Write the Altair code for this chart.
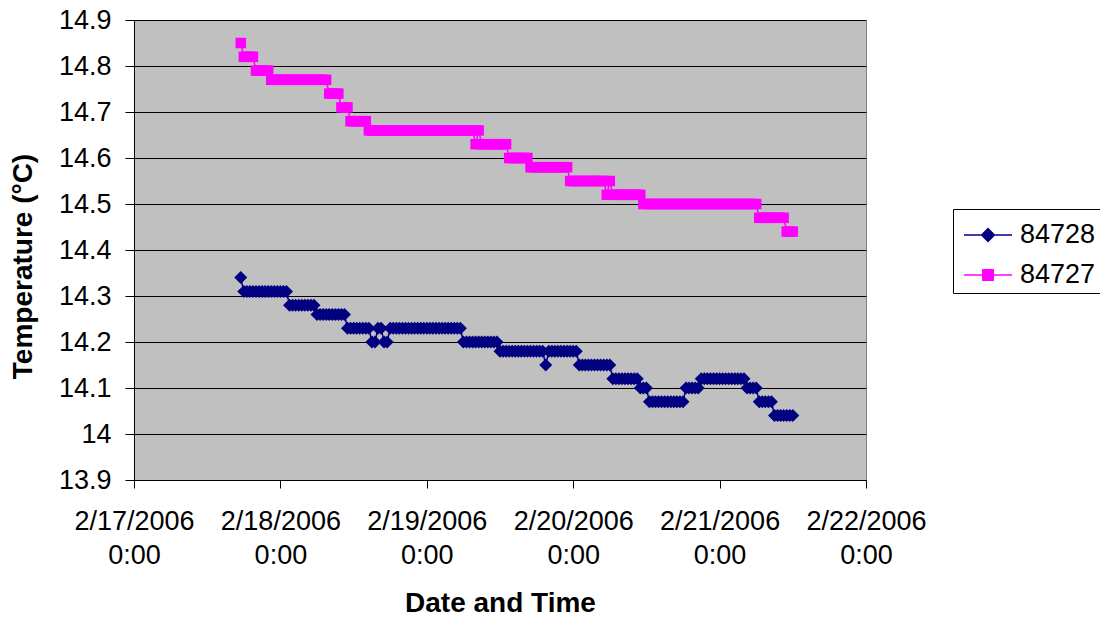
import altair as alt
import pandas as pd

# ---- data ----
series_names = ["84728", "84727"]
series_colors = ["#000080", "#FF00FF"]
marker_shapes = ["diamond", "square"]
marker_sizes = [170, 110]
legend_shapes = [
    "M-1.2,0H1.2M-0.32,0L0,-0.32L0.32,0L0,0.32Z",
    "M-1.2,0H1.2M-0.26,-0.26H0.26V0.26H-0.26Z",
]

start_time = "2006-02-17 17:30"   # first logger reading
sample_interval = "30min"         # logger interval

temps_84728 = [
    14.34, 14.31, 14.31, 14.31, 14.31, 14.31, 14.31, 14.31, 14.31, 14.31,
    14.31, 14.31, 14.31, 14.31, 14.31, 14.31, 14.28, 14.28, 14.28, 14.28,
    14.28, 14.28, 14.28, 14.28, 14.28, 14.26, 14.26, 14.26, 14.26, 14.26,
    14.26, 14.26, 14.26, 14.26, 14.26, 14.23, 14.23, 14.23, 14.23, 14.23,
    14.23, 14.23, 14.23, 14.20, 14.20, 14.23, 14.23, 14.20, 14.20, 14.23,
    14.23, 14.23, 14.23, 14.23, 14.23, 14.23, 14.23, 14.23, 14.23, 14.23,
    14.23, 14.23, 14.23, 14.23, 14.23, 14.23, 14.23, 14.23, 14.23, 14.23,
    14.23, 14.23, 14.23, 14.20, 14.20, 14.20, 14.20, 14.20, 14.20, 14.20,
    14.20, 14.20, 14.20, 14.20, 14.20, 14.18, 14.18, 14.18, 14.18, 14.18,
    14.18, 14.18, 14.18, 14.18, 14.18, 14.18, 14.18, 14.18, 14.18, 14.18,
    14.15, 14.18, 14.18, 14.18, 14.18, 14.18, 14.18, 14.18, 14.18, 14.18,
    14.18, 14.15, 14.15, 14.15, 14.15, 14.15, 14.15, 14.15, 14.15, 14.15,
    14.15, 14.15, 14.12, 14.12, 14.12, 14.12, 14.12, 14.12, 14.12, 14.12,
    14.12, 14.10, 14.10, 14.10, 14.07, 14.07, 14.07, 14.07, 14.07, 14.07,
    14.07, 14.07, 14.07, 14.07, 14.07, 14.07, 14.10, 14.10, 14.10, 14.10,
    14.10, 14.12, 14.12, 14.12, 14.12, 14.12, 14.12, 14.12, 14.12, 14.12,
    14.12, 14.12, 14.12, 14.12, 14.12, 14.12, 14.10, 14.10, 14.10, 14.10,
    14.07, 14.07, 14.07, 14.07, 14.07, 14.04, 14.04, 14.04, 14.04, 14.04,
    14.04, 14.04,
]

temps_84727 = [
    14.85, 14.82, 14.82, 14.82, 14.82, 14.79, 14.79, 14.79, 14.79, 14.79,
    14.77, 14.77, 14.77, 14.77, 14.77, 14.77, 14.77, 14.77, 14.77, 14.77,
    14.77, 14.77, 14.77, 14.77, 14.77, 14.77, 14.77, 14.77, 14.77, 14.74,
    14.74, 14.74, 14.74, 14.71, 14.71, 14.71, 14.68, 14.68, 14.68, 14.68,
    14.68, 14.68, 14.66, 14.66, 14.66, 14.66, 14.66, 14.66, 14.66, 14.66,
    14.66, 14.66, 14.66, 14.66, 14.66, 14.66, 14.66, 14.66, 14.66, 14.66,
    14.66, 14.66, 14.66, 14.66, 14.66, 14.66, 14.66, 14.66, 14.66, 14.66,
    14.66, 14.66, 14.66, 14.66, 14.66, 14.66, 14.66, 14.63, 14.66, 14.63,
    14.63, 14.63, 14.63, 14.63, 14.63, 14.63, 14.63, 14.63, 14.60, 14.60,
    14.60, 14.60, 14.60, 14.60, 14.60, 14.58, 14.58, 14.58, 14.58, 14.58,
    14.58, 14.58, 14.58, 14.58, 14.58, 14.58, 14.58, 14.58, 14.55, 14.55,
    14.55, 14.55, 14.55, 14.55, 14.55, 14.55, 14.55, 14.55, 14.55, 14.55,
    14.52, 14.55, 14.52, 14.52, 14.52, 14.52, 14.52, 14.52, 14.52, 14.52,
    14.52, 14.52, 14.50, 14.50, 14.50, 14.50, 14.50, 14.50, 14.50, 14.50,
    14.50, 14.50, 14.50, 14.50, 14.50, 14.50, 14.50, 14.50, 14.50, 14.50,
    14.50, 14.50, 14.50, 14.50, 14.50, 14.50, 14.50, 14.50, 14.50, 14.50,
    14.50, 14.50, 14.50, 14.50, 14.50, 14.50, 14.50, 14.50, 14.50, 14.50,
    14.47, 14.47, 14.47, 14.47, 14.47, 14.47, 14.47, 14.47, 14.47, 14.44,
    14.44, 14.44,
]

x_tick_days = [17, 18, 19, 20, 21, 22]
y_ticks = [13.9, 14.0, 14.1, 14.2, 14.3, 14.4, 14.5, 14.6, 14.7, 14.8, 14.9]

# ---- build table ----
times = pd.date_range(start_time, periods=len(temps_84728), freq=sample_interval)
df = pd.concat([
    pd.DataFrame({"time": times, "temp": temps_84728, "series": series_names[0]}),
    pd.DataFrame({"time": times, "temp": temps_84727, "series": series_names[1]}),
], ignore_index=True)
legend_df = pd.DataFrame({"name": series_names})

FONT = "Liberation Sans"
FS = 27      # tick / legend labels
TFS = 28     # axis titles

x_enc = alt.X(
    "time:T",
    scale=alt.Scale(domain=[alt.DateTime(year=2006, month=2, date=x_tick_days[0]),
                            alt.DateTime(year=2006, month=2, date=x_tick_days[-1])]),
    axis=alt.Axis(
        values=[alt.DateTime(year=2006, month=2, date=d) for d in x_tick_days],
        labelExpr="[timeFormat(datum.value, '%-m/%-d/%Y'), timeFormat(datum.value, '%-H:%M')]",
        grid=False, tickSize=8, labelPadding=20, labelLineHeight=34,
        labelFontSize=FS, labelFont=FONT, labelColor="black",
        title="Date and Time", titleFontSize=TFS, titleFont=FONT, titleFontWeight="bold",
        titlePadding=21, labelOverlap=False, labelFlush=False,
    ),
)
y_enc = alt.Y(
    "temp:Q",
    scale=alt.Scale(domain=[13.9, 14.9], nice=False, zero=False),
    axis=alt.Axis(
        values=y_ticks, format=".3~r", grid=True, gridColor="black", gridWidth=1,
        tickSize=9, labelPadding=14, labelFontSize=FS, labelFont=FONT, labelColor="black",
        title="Temperature (°C)", titleFontSize=TFS, titleFont=FONT, titleFontWeight="bold",
        titleX=-111, titleY=246, titleBaseline="middle",
    ),
)
color_scale = alt.Scale(domain=series_names, range=series_colors)

lines = alt.Chart(df).mark_line(strokeWidth=1.5).encode(
    x=x_enc, y=y_enc,
    color=alt.Color("series:N", scale=color_scale, legend=None),
    detail="series:N",
)

point_layers = []
for name, shp, sz in zip(series_names, marker_shapes, marker_sizes):
    point_layers.append(
        alt.Chart(df).transform_filter(alt.datum.series == name)
        .mark_point(filled=True, shape=shp, size=sz, opacity=1)
        .encode(x=x_enc, y=y_enc,
                color=alt.Color("series:N", scale=color_scale, legend=None))
    )

leg = alt.Legend(
    title=None, orient="none", legendX=819, legendY=189, direction="vertical",
    strokeColor="black", fillColor="white", padding=5, rowPadding=6,
    symbolSize=1600, symbolStrokeWidth=1.5, symbolOffset=9, labelOffset=11,
    symbolFillColor="white", symbolStrokeColor="black",
    labelFontSize=FS, labelFont=FONT, labelColor="black", labelLimit=300,
)
legend_layer = alt.Chart(legend_df).transform_filter("false").mark_point(
    filled=True, size=1600, opacity=1, strokeWidth=1.5
).encode(
    fill=alt.Fill("name:N", scale=alt.Scale(domain=series_names, range=series_colors), legend=leg),
    stroke=alt.Stroke("name:N", scale=alt.Scale(domain=series_names, range=series_colors), legend=leg),
    shape=alt.Shape("name:N", scale=alt.Scale(domain=series_names, range=legend_shapes), legend=leg),
)

chart = alt.layer(lines, *point_layers, legend_layer).resolve_scale(
    fill="independent", stroke="independent", shape="independent",
).properties(
    width=732, height=460,
    autosize=alt.AutoSizeParams(type="none"),
    padding={"left": 126, "top": 12, "right": 234, "bottom": 138},
    background="white",
    view=alt.ViewBackground(fill="#C0C0C0", stroke="#808080", strokeWidth=1),
).configure_view(
    fill="#C0C0C0", stroke="#808080", strokeWidth=1,
).configure_axis(
    domainColor="black", tickColor="black", domainWidth=1, tickWidth=1,
)

chart.save("out.html", embed_options={"renderer": "svg", "actions": False})
